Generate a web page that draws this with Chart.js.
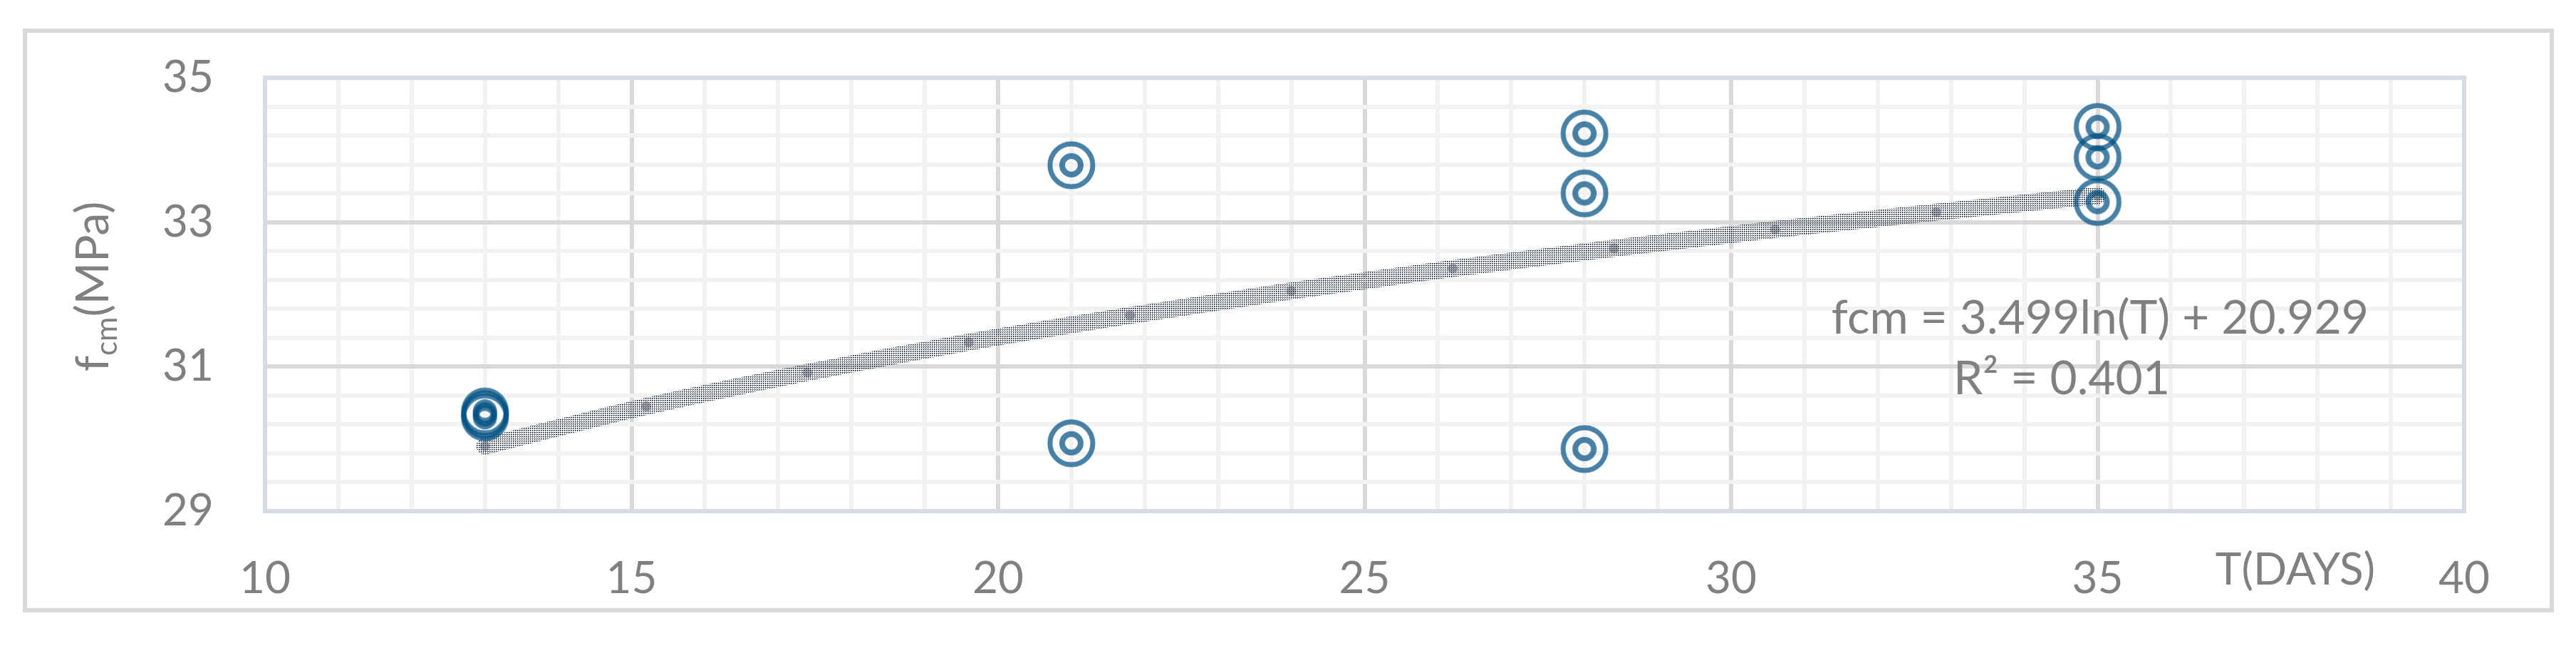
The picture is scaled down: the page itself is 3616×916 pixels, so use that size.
<!DOCTYPE html>
<html>
<head>
<meta charset="utf-8">
<script src="https://cdn.jsdelivr.net/npm/chart.js@4.4.1/dist/chart.umd.min.js"></script>
<style>
  html, body { margin: 0; padding: 0; background: #fff; }
  canvas { display: block; }
</style>
</head>
<body>
<canvas id="chart" width="3616" height="916"></canvas>
<script>
// measured specimens: age in days and mean compressive strength
const tDays = [13, 13, 13, 21, 21, 28, 28, 28, 35, 35, 35];
const fcmValues = [30.38, 30.34, 30.30, 33.79, 29.94, 34.23, 33.40, 29.86, 34.32, 33.90, 33.28];

// log trendline
const trendT = [13, 15.2, 17.4, 19.6, 21.8, 24, 26.2, 28.4, 30.6, 32.8, 35];
const trendFcm = [29.90, 30.45, 30.92, 31.34, 31.71, 32.05, 32.36, 32.64, 32.90, 33.14, 33.37];

const xLabels = [10, 15, 20, 25, 30, 35, 40];
const yLabels = [29, 31, 33, 35];
const equationText = 'fcm = 3.499ln(T) + 20.929';
const r2Text = 'R\u00B2 = 0.401';

const FONT = 'Lato, "Open Sans", sans-serif';
const GRAY = '#808080';

// wanted plot area, in canvas pixels
const AREA = { left: 372, top: 88, right: 3459, bottom: 717 };

// dotted fill used by Excel for the trendline
function makeDotPattern() {
    const pc = document.createElement('canvas');
    pc.width = 3; pc.height = 3;
    const p = pc.getContext('2d');
    p.fillStyle = '#34404f';
    p.fillRect(0, 0, 2, 1);
    p.fillRect(0, 1, 1, 1);
    return document.getElementById('chart').getContext('2d').createPattern(pc, 'repeat');
}

// "target" marker: two rings
function makeTarget() {
    const mc = document.createElement('canvas');
    mc.width = 76; mc.height = 76;
    const m = mc.getContext('2d');
    m.strokeStyle = 'rgba(0, 80, 130, 0.72)';
    m.lineWidth = 7;
    m.beginPath(); m.arc(38, 38, 30, 0, Math.PI * 2); m.stroke();
    m.lineWidth = 8;
    m.beginPath(); m.arc(38, 38, 13, 0, Math.PI * 2); m.stroke();
    return mc;
}

function isOddInt(v) {
    const r = Math.round(v);
    return Math.abs(v - r) < 1e-6 && yLabels.includes(r);
}

const frame = {
    id: 'frame',
    beforeDraw(chart) {
        const c = chart.ctx;
        c.save();
        c.fillStyle = '#fff';
        c.fillRect(0, 0, chart.width, chart.height);
        c.strokeStyle = '#D9D9D9';
        c.lineWidth = 6;
        c.strokeRect(35, 43, 3547, 813);
        c.restore();
    },
    beforeDatasetsDraw(chart) {
        const c = chart.ctx, a = chart.chartArea;
        c.save();
        c.strokeStyle = '#D6DCE5';
        c.lineWidth = 6;
        c.strokeRect(a.left, a.top, a.right - a.left, a.bottom - a.top);
        c.restore();
    },
    afterDraw(chart) {
        const c = chart.ctx;
        c.save();
        c.fillStyle = GRAY;

        // y axis title with subscript
        c.translate(152, 402);
        c.rotate(-Math.PI / 2);
        c.textBaseline = 'alphabetic';
        c.textAlign = 'left';
        c.font = '64px ' + FONT;
        const wF = c.measureText('f').width;
        const wRest = c.measureText('(MPa)').width;
        c.font = '42px ' + FONT;
        const wSub = c.measureText('cm').width;
        let x0 = -(wF + wSub + wRest) / 2;
        c.font = '64px ' + FONT;
        c.fillText('f', x0, 0);
        c.font = '42px ' + FONT;
        c.fillText('cm', x0 + wF, 12);
        c.font = '64px ' + FONT;
        c.fillText('(MPa)', x0 + wF + wSub, 0);
        c.setTransform(1, 0, 0, 1, 0, 0);

        // x axis title sits on the tick label row
        c.textAlign = 'center';
        c.textBaseline = 'middle';
        c.font = '62px ' + FONT;
        c.fillText('T(DAYS)', 3222, 800);

        // trendline label
        c.textBaseline = 'alphabetic';
        c.font = '66px ' + FONT;
        c.fillText(equationText, 2948, 468);
        c.fillText(r2Text, 2894, 553);
        c.restore();
    }
};

const chart = new Chart(document.getElementById('chart'), {
    type: 'scatter',
    data: {
        datasets: [
            {
                label: 'trend',
                data: trendT.map((t, i) => ({ x: t, y: trendFcm[i] })),
                showLine: true,
                borderColor: makeDotPattern(),
                borderWidth: 24,
                borderCapStyle: 'round',
                cubicInterpolationMode: 'monotone',
                pointRadius: 7,
                pointBorderWidth: 0,
                pointBackgroundColor: 'rgba(55, 65, 80, 0.4)',
                order: 2
            },
            {
                label: 'fcm',
                data: tDays.map((t, i) => ({ x: t, y: fcmValues[i] })),
                pointStyle: makeTarget(),
                pointRadius: 34,
                order: 1
            }
        ]
    },
    options: {
        responsive: false,
        animation: false,
        devicePixelRatio: 1,
        layout: { padding: { left: 0, right: 3616 - AREA.right, top: AREA.top, bottom: 0 } },
        plugins: { legend: { display: false }, tooltip: { enabled: false } },
        scales: {
            x: {
                type: 'linear',
                min: 10,
                max: 40,
                afterFit: s => { s.height = 916 - AREA.bottom; },
                border: { display: false },
                grid: {
                    drawTicks: false,
                    lineWidth: 6,
                    color: ctx => (ctx.tick && ctx.tick.value % 5 === 0) ? '#D9D9D9' : '#F2F2F2'
                },
                ticks: {
                    stepSize: 1,
                    autoSkip: false,
                    maxRotation: 0,
                    padding: 58,
                    color: GRAY,
                    font: { family: FONT, size: 62 },
                    callback: v => xLabels.includes(v) ? String(v) : ''
                }
            },
            y: {
                type: 'linear',
                min: 29,
                max: 35,
                afterFit: s => { s.width = AREA.left; },
                border: { display: false },
                grid: {
                    drawTicks: false,
                    lineWidth: 6,
                    color: ctx => (ctx.tick && isOddInt(ctx.tick.value)) ? '#D9D9D9' : '#F2F2F2'
                },
                ticks: {
                    stepSize: 0.4,
                    autoSkip: false,
                    padding: 72,
                    color: GRAY,
                    font: { family: FONT, size: 62 },
                    callback: v => isOddInt(v) ? String(Math.round(v)) : ''
                }
            }
        }
    },
    plugins: [frame]
});

// nudge the layout padding so the plot area lands where the reference has it
const pad = chart.options.layout.padding;
const got = chart.chartArea;
pad.top += AREA.top - got.top;
pad.right += got.right - AREA.right;
chart.update();
</script>
</body>
</html>
